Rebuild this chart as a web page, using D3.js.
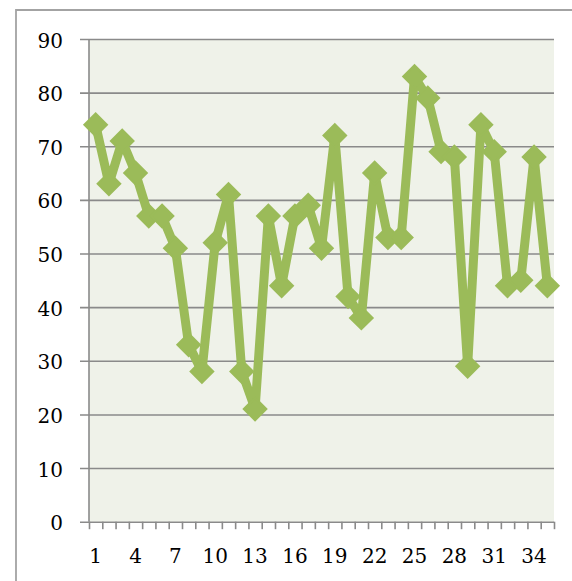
<!DOCTYPE html>
<html>
<head>
<meta charset="utf-8">
<script src="https://cdn.jsdelivr.net/npm/d3@7"></script>
<style>
  html, body { margin: 0; padding: 0; background: #fff; }
  svg { display: block; }
</style>
</head>
<body>
<svg id="chart" width="572" height="581"></svg>
<script>
// data
const categories = [1, 2, 3, 4, 5, 6, 7, 8, 9, 10, 11, 12, 13, 14, 15, 16, 17, 18, 19, 20,
  21, 22, 23, 24, 25, 26, 27, 28, 29, 30, 31, 32, 33, 34, 35];
const values = [74, 63, 71, 65, 57, 57, 51, 33, 28, 52, 61, 28, 21, 57, 44, 57, 59, 51, 72, 42,
  38, 65, 53, 53, 83, 79, 69, 68, 29, 74, 69, 44, 45, 68, 44];
const yTicks = [0, 10, 20, 30, 40, 50, 60, 70, 80, 90];
const xTickLabels = [1, 4, 7, 10, 13, 16, 19, 22, 25, 28, 31, 34];

const width = 572;
const height = 581;
const plot = { left: 89, right: 554, top: 39, bottom: 521.7 };
const green = '#9BBB59';
const gridColor = '#8a8a8a';
const labelFont = '"DejaVu Serif", "Liberation Serif", serif';

const svg = d3.select('#chart');

// outer chart border (only top and left show)
svg.append('path')
  .attr('d', `M16,${height} V10 H${width}`)
  .attr('fill', 'none')
  .attr('stroke', '#a3a3a3')
  .attr('stroke-width', 1.8);

// plot area
svg.append('rect')
  .attr('x', plot.left)
  .attr('y', plot.top)
  .attr('width', plot.right - plot.left)
  .attr('height', plot.bottom - plot.top)
  .attr('fill', '#EFF2E9');

const x = d3.scaleBand()
  .domain(categories)
  .range([plot.left, plot.right])
  .paddingInner(0)
  .paddingOuter(0);

const xEdges = d3.scaleLinear()
  .domain([0, categories.length])
  .range([plot.left, plot.right]);

const y = d3.scaleLinear()
  .domain([0, 90])
  .range([plot.bottom, plot.top]);

const styleLabels = sel => sel
  .style('font-family', labelFont)
  .style('font-size', '20px')
  .attr('fill', '#000');

// gridlines + y labels
const yAxis = g => g
  .attr('transform', `translate(80,0)`)
  .call(d3.axisLeft(y).tickValues(yTicks).tickSize(-(plot.right - 80)).tickPadding(17))
  .call(g => g.select('.domain').remove())
  .call(g => g.selectAll('.tick line').attr('stroke', gridColor).attr('stroke-width', 1.6))
  .call(g => g.selectAll('.tick text').call(styleLabels).attr('dy', 8));

svg.append('g').call(yAxis);

// value axis line
svg.append('line')
  .attr('x1', plot.left).attr('x2', plot.left)
  .attr('y1', plot.top).attr('y2', plot.bottom)
  .attr('stroke', gridColor)
  .attr('stroke-width', 1.6);

// category axis ticks at category edges
const xTicks = g => g
  .attr('transform', `translate(0,${plot.bottom})`)
  .call(d3.axisBottom(xEdges).tickValues(d3.range(0, categories.length + 1)).tickSize(7.5).tickFormat(''))
  .call(g => g.select('.domain').remove())
  .call(g => g.selectAll('.tick line').attr('stroke', gridColor).attr('stroke-width', 1.6));

svg.append('g').call(xTicks);

// category labels
const xLabels = g => g
  .attr('transform', `translate(0,${plot.bottom})`)
  .call(d3.axisBottom(x).tickValues(xTickLabels).tickSize(0).tickPadding(0))
  .call(g => g.select('.domain').remove())
  .call(g => g.selectAll('.tick text').call(styleLabels).attr('y', 0).attr('dy', 41.3));

svg.append('g').call(xLabels);

// series line
const cx = (d, i) => x(categories[i]) + x.bandwidth() / 2;

const line = d3.line()
  .x(cx)
  .y(d => y(d));

svg.append('path')
  .datum(values)
  .attr('fill', 'none')
  .attr('stroke', green)
  .attr('stroke-width', 9)
  .attr('stroke-linejoin', 'round')
  .attr('d', line);

// diamond markers
const diamond = d3.symbol().type(d3.symbolSquare).size(256);

svg.append('g')
  .selectAll('path')
  .data(values)
  .join('path')
  .attr('d', diamond)
  .attr('transform', (d, i) => `translate(${cx(d, i)},${y(d)}) rotate(45)`)
  .attr('fill', green)
  .attr('stroke', green)
  .attr('stroke-width', 2);
</script>
</body>
</html>
